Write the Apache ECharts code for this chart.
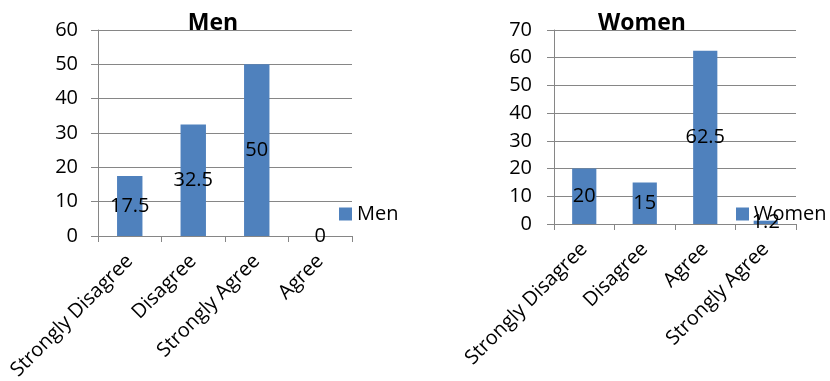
<!DOCTYPE html>
<html>
<head>
<meta charset="utf-8">
<script src="https://cdn.jsdelivr.net/npm/echarts@6/dist/echarts.min.js"></script>
<style>
  html, body { margin: 0; padding: 0; background: #fff; }
  #main { width: 830px; height: 381px; }
</style>
</head>
<body>
<div id="main"></div>
<script>
// data
var menCategories = ['Strongly Disagree', 'Disagree', 'Strongly Agree', 'Agree'];
var menValues = [17.5, 32.5, 50, 0];
var womenCategories = ['Strongly Disagree', 'Disagree', 'Agree', 'Strongly Agree'];
var womenValues = [20, 15, 62.5, 1.2];
var menTicks = { max: 60, interval: 10 };
var womenTicks = { max: 70, interval: 10 };

var font = 'Open Sans';
var grey = '#868686';
var barColor = '#4F81BD';

function xAxisOf(gridIndex, cats) {
  return {
    type: 'category',
    gridIndex: gridIndex,
    data: cats,
    axisLine: { lineStyle: { color: grey } },
    axisTick: { show: true, length: 6, lineStyle: { color: grey } },
    axisLabel: { rotate: 45, margin: 22, fontFamily: font, fontSize: 20, color: '#000', interval: 0 },
    splitLine: { show: false }
  }
}

function yAxisOf(gridIndex, ticks, margin) {
  return {
    type: 'value',
    gridIndex: gridIndex,
    min: 0,
    max: ticks.max,
    interval: ticks.interval,
    axisLine: { show: true, lineStyle: { color: grey } },
    axisTick: { show: true, length: 7, lineStyle: { color: grey } },
    axisLabel: { margin: margin, fontFamily: font, fontSize: 20, color: '#000' },
    splitLine: { lineStyle: { color: grey } }
  }
}

function seriesOf(name, idx, values) {
  return {
    name: name,
    type: 'bar',
    xAxisIndex: idx,
    yAxisIndex: idx,
    data: values,
    barWidth: '40%',
    itemStyle: { color: barColor },
    label: {
      show: true,
      position: 'inside',
      fontFamily: font,
      fontSize: 20,
      color: '#000'
    }
  }
}

var chart = echarts.init(document.getElementById('main'));
chart.setOption({
  animation: false,
  backgroundColor: '#fff',
  title: [
    { text: 'Men', left: 208, top: 7, textAlign: 'center',
      textStyle: { fontFamily: font, fontSize: 23, fontWeight: 'bold', color: '#000' } },
    { text: 'Women', left: 637, top: 7, textAlign: 'center',
      textStyle: { fontFamily: font, fontSize: 23, fontWeight: 'bold', color: '#000' } }
  ],
  legend: [
    { data: ['Men'], left: 339, top: 204, padding: 0, itemWidth: 13, itemHeight: 13, itemGap: 6,
      icon: 'rect', textStyle: { fontFamily: font, fontSize: 20, color: '#000' } },
    { data: ['Women'], left: 736, top: 204, padding: 0, itemWidth: 13, itemHeight: 13, itemGap: 6,
      icon: 'rect', textStyle: { fontFamily: font, fontSize: 20, color: '#000' } }
  ],
  grid: [
    { left: 98, right: 478, top: 30, bottom: 145, outerBoundsMode: 'none' },
    { left: 554, right: 34, top: 30, bottom: 157, outerBoundsMode: 'none' }
  ],
  xAxis: [xAxisOf(0, menCategories), xAxisOf(1, womenCategories)],
  yAxis: [yAxisOf(0, menTicks, 20), yAxisOf(1, womenTicks, 22)],
  series: [seriesOf('Men', 0, menValues), seriesOf('Women', 1, womenValues)]
});
</script>
</body>
</html>
